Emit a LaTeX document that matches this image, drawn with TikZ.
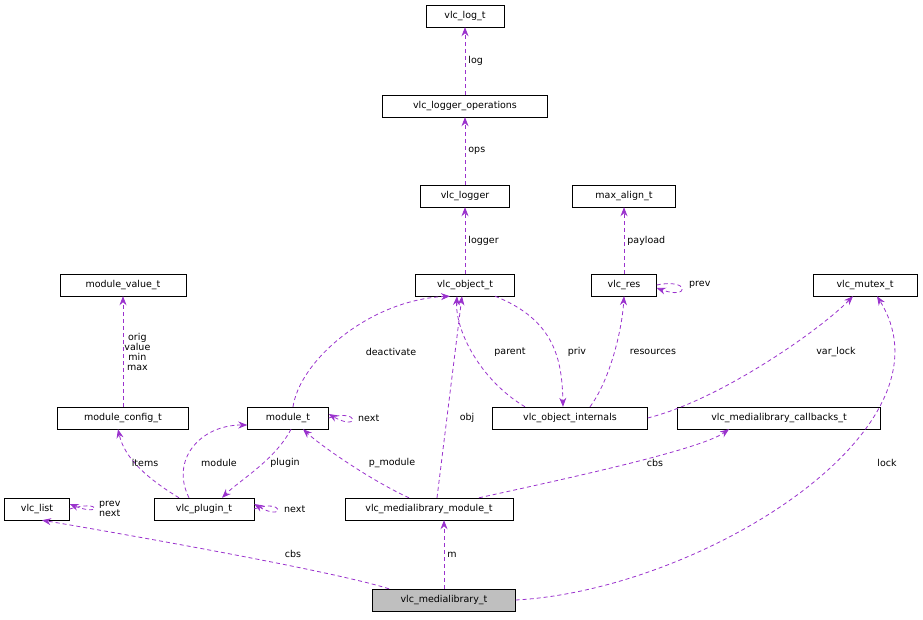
\documentclass[tikz,border=0pt]{standalone}
\usepackage{fontspec}
\setmainfont{DejaVu Sans}
\usetikzlibrary{arrows.meta}
\begin{document}
\begin{tikzpicture}[x=1pt,y=-1pt,
  box/.style={draw=black,fill=white,font=\fontsize{9.5}{11}\selectfont,inner sep=0pt,minimum height=22pt,anchor=center},
  e/.style={draw={rgb,255:red,154;green,50;blue,205},dashed,dash pattern=on 4pt off 3pt,line width=0.8pt,-{Stealth[length=9pt,width=7pt]}},
  lb/.style={font=\fontsize{9.5}{11}\selectfont,inner sep=1pt}]
\useasboundingbox (0,0) rectangle (923,620);
\node[box,minimum width=78pt] (log) at (465,16) {vlc\_log\_t};
\node[box,minimum width=165pt] (ops) at (465,106) {vlc\_logger\_operations};
\node[box,minimum width=89pt] (logger) at (465,196) {vlc\_logger};
\node[box,minimum width=103pt] (max) at (624,196) {max\_align\_t};
\node[box,minimum width=99pt] (obj) at (465,285) {vlc\_object\_t};
\node[box,minimum width=65pt] (res) at (624,285) {vlc\_res};
\node[box,minimum width=104pt] (mutex) at (865,285) {vlc\_mutex\_t};
\node[box,minimum width=126pt] (mval) at (123,285) {module\_value\_t};
\node[box,minimum width=131pt] (mconf) at (123,418) {module\_config\_t};
\node[box,minimum width=81pt] (mod) at (288,418) {module\_t};
\node[box,minimum width=155pt] (oint) at (570,418) {vlc\_object\_internals};
\node[box,minimum width=203pt] (cbs) at (779,418) {vlc\_medialibrary\_callbacks\_t};
\node[box,minimum width=65pt] (list) at (37,509) {vlc\_list};
\node[box,minimum width=100pt] (plug) at (204,509) {vlc\_plugin\_t};
\node[box,minimum width=168pt] (mlm) at (429,509) {vlc\_medialibrary\_module\_t};
\node[box,minimum width=143pt,fill={rgb,255:red,191;green,191;blue,191}] (ml) at (444,600) {vlc\_medialibrary\_t};

\draw[e] (ops) -- node[lb,right=2pt]{log} (log);
\draw[e] (logger) -- node[lb,right=2pt]{ops} (ops);
\draw[e] (obj) -- node[lb,right=2pt]{logger} (logger);
\draw[e] (res) -- node[lb,right=2pt]{payload} (max);
\draw[e] (res.east) .. controls (690,278) and (690,300) .. ([yshift=-3pt]res.east);
\node[lb,anchor=west] at (688,285) {prev};
\draw[e] ([xshift=5pt]mod.north) .. controls (300,360) and (370,300) .. ([xshift=-15pt]obj.south);
\node[lb] at (391,352) {deactivate};
\draw[e] ([xshift=-45pt]oint.north) .. controls (480,380) and (455,330) .. ([xshift=-8pt]obj.south);
\node[lb] at (510,352) {parent};
\draw[e] ([xshift=30pt]obj.south) .. controls (555,320) and (562,360) .. ([xshift=-7pt]oint.north);
\node[lb] at (577,352) {priv};
\draw[e] ([xshift=20pt]oint.north) .. controls (610,380) and (622,330) .. (res.south);
\node[lb] at (653,352) {resources};
\draw[e] (oint.east) .. controls (720,400) and (820,330) .. ([xshift=-12pt]mutex.south);
\node[lb] at (836,352) {var\_lock};
\draw[e] (ml.east) .. controls (700,590) and (960,430) .. ([xshift=12pt]mutex.south);
\node[lb] at (887,463) {lock};
\draw[e] (mconf) -- node[lb,right=0pt,align=center,font=\fontsize{9.5}{10}\selectfont]{orig\\value\\min\\max} (mval);
\draw[e] ([xshift=-25pt]plug.north) .. controls (150,480) and (125,460) .. ([xshift=-5pt]mconf.south);
\node[lb] at (145,463) {items};
\draw[e] (mod.east) .. controls (360,408) and (360,432) .. ([yshift=4pt]mod.east);
\node[lb,anchor=west] at (357,418) {next};
\draw[e] ([xshift=-15pt]plug.north) .. controls (170,460) and (200,425) .. ([yshift=-7pt]mod.west);
\node[lb] at (219,463) {module};
\draw[e] ([xshift=3pt]mod.south) .. controls (275,460) and (240,480) .. ([xshift=18pt]plug.north);
\node[lb] at (285,463) {plugin};
\draw[e] (plug.east) .. controls (285,498) and (285,522) .. ([yshift=5pt]plug.east);
\node[lb,anchor=west] at (283,509) {next};
\draw[e] (list.east) .. controls (102,499) and (102,517) .. ([yshift=5pt]list.east);
\node[lb,anchor=west,align=left,font=\fontsize{9.5}{10}\selectfont] at (98,509) {prev\\next};
\draw[e] ([xshift=-20pt]mlm.north) .. controls (370,480) and (320,445) .. ([xshift=15pt]mod.south);
\node[lb] at (392,463) {p\_module};
\draw[e] ([xshift=8pt]mlm.north) -- ([xshift=-3pt]obj.south);
\node[lb] at (467,418) {obj};
\draw[e] ([xshift=50pt]mlm.north) .. controls (560,480) and (700,450) .. ([xshift=-50pt]cbs.south);
\node[lb] at (655,463) {cbs};
\draw[e] ([xshift=-55pt]ml.north) .. controls (330,570) and (100,530) .. ([xshift=5pt]list.south);
\node[lb] at (293,554) {cbs};
\draw[e] (ml) -- node[lb,right=2pt]{m} ([xshift=15pt]mlm.south);
\end{tikzpicture}
\end{document}
